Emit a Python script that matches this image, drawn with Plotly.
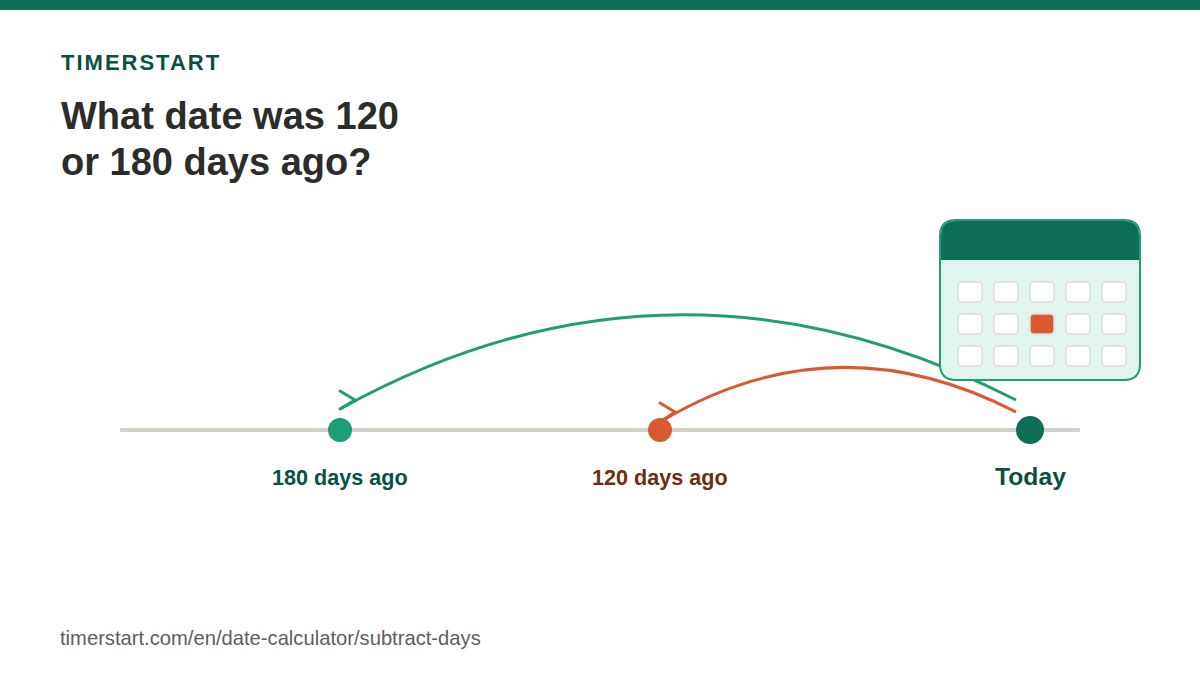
import plotly.graph_objects as go

# Timeline stops
stop_labels = ['180 days ago', '120 days ago', 'Today']
stop_x = [340, 660, 1030]
stop_colors = ['#1D9E75', '#D85A30', '#0F6E56']
label_colors = ['#085041', '#712B13', '#085041']
label_sizes = [21.6, 21.6, 24.7]
label_y = [477, 477, 476]

# Calendar grid
cell_cols = [958, 994, 1030, 1066, 1102]
cell_rows = [282, 314, 346]


def round_rect(x0, y0, x1, y1, r):
    return (f'M{x0+r},{y0} L{x1-r},{y0} Q{x1},{y0} {x1},{y0+r} L{x1},{y1-r} Q{x1},{y1} {x1-r},{y1} '
            f'L{x0+r},{y1} Q{x0},{y1} {x0},{y1-r} L{x0},{y0+r} Q{x0},{y0} {x0+r},{y0} Z')


shapes = [
    dict(type='rect', x0=0, x1=1200, y0=0, y1=10, fillcolor='#0F6E56', line_width=0),
    dict(type='line', x0=120, x1=1080, y0=430, y1=430, line=dict(color='#D3D1C7', width=4)),
    # arcs
    dict(type='path', path='M340,409 Q672,225 1016,400', line=dict(color='#1D9E75', width=3)),
    dict(type='path', path='M340,391 L355,400 L340,409', line=dict(color='#1D9E75', width=3)),
    dict(type='path', path='M660,422 Q834,318 1016,412', line=dict(color='#D85A30', width=3)),
    dict(type='path', path='M660,403 L675,412 L660,422', line=dict(color='#D85A30', width=3)),
    # calendar
    dict(type='path', path=round_rect(940, 220, 1140, 380, 16), fillcolor='#E1F5EE',
         line=dict(color='#1D9E75', width=2)),
    dict(type='path', path='M941,260 L941,236 Q941,221 956,221 L1124,221 Q1139,221 1139,236 L1139,260 Z',
         fillcolor='#0F6E56', line_width=0),
]

for r, y in enumerate(cell_rows):
    for c, x in enumerate(cell_cols):
        today = r == 1 and c == 2
        shapes.append(dict(type='path', path=round_rect(x, y, x + 24, y + 20, 4),
                           fillcolor='#D85A30' if today else '#FFFFFF',
                           line=dict(color='#DEDDD6', width=1.5)))

for s in shapes:
    s['layer'] = 'below'

fig = go.Figure()
fig.add_trace(go.Scatter(x=stop_x, y=[430] * 3, mode='markers', hoverinfo='skip',
                         marker=dict(size=[24, 24, 28], color=stop_colors, opacity=1, line_width=0)))

font = 'Liberation Sans'
annotations = [
    # x is 10 right of the text edge: tracking grows the centred text both ways
    dict(x=71, y=62, text='<b>TIMERSTART</b>', xanchor='left', font=dict(size=22, color='#085041')),
    dict(x=61, y=116, text='<b>What date was 120</b>', xanchor='left', font=dict(size=38, color='#2C2C2A')),
    dict(x=60.5, y=162, text='<b>or 180 days ago?</b>', xanchor='left', font=dict(size=38, color='#2C2C2A')),
    dict(x=60, y=638, text='timerstart.com/en/date-calculator/subtract-days', xanchor='left',
         font=dict(size=20.2, color='#5F5E5A')),
]
for label, x, y, col, size in zip(stop_labels, stop_x, label_y, label_colors, label_sizes):
    annotations.append(dict(x=x, y=y, text=f'<b>{label}</b>', xanchor='center', font=dict(size=size, color=col)))
for a in annotations:
    a.update(xref='x', yref='y', yanchor='middle', showarrow=False, borderwidth=0, borderpad=0)
    a['font']['family'] = font

fig.update_layout(
    width=1200, height=675, margin=dict(l=0, r=0, t=0, b=0),
    paper_bgcolor='white', plot_bgcolor='white', showlegend=False,
    xaxis=dict(range=[0, 1200], visible=False, fixedrange=True),
    yaxis=dict(range=[675, 0], visible=False, fixedrange=True),
    shapes=shapes, annotations=annotations,
)

# page margin off, brand line tracking and round arrow caps: plotly has no option for these
extras = """
document.body.style.margin = '0';
document.querySelectorAll('.annotation-text').forEach(function (t) {
  if (t.textContent === 'TIMERSTART') { t.style.letterSpacing = '2px'; }
});
document.querySelectorAll('.shapelayer path').forEach(function (p) {
  var d = p.getAttribute('d') || '';
  if (d.split('L').length === 3 && d.indexOf('Z') < 0) { p.style.strokeLinecap = 'round'; p.style.strokeLinejoin = 'round'; }
});
"""
fig.write_html('out.html', config={'displayModeBar': False}, post_script=extras)
